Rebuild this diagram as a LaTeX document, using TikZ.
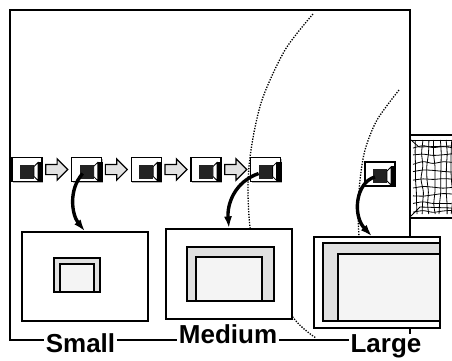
\documentclass[tikz,border=0pt]{standalone}
\usepackage{fontspec}
\setmainfont{Liberation Sans}
\usetikzlibrary{arrows.meta,positioning,shapes.arrows,shadows}
\definecolor{camdark}{HTML}{222222}
\definecolor{panelgray}{HTML}{E0E0E0}
\definecolor{panellight}{HTML}{F4F4F4}
\definecolor{flowgray}{HTML}{E2E2E2}

\tikzset{
    camera/.pic={
        \fill[camdark] (-7,-5) rectangle (7,9);
        \draw[fill=white, line width=0.8pt] (7,-3) -- (11,-7) -- (11,11) -- (7,7) -- cycle;
        \fill[black] (11,-8) rectangle (16,12);
    }
}

\begin{document}
\begin{tikzpicture}[
    x=1pt, y=-1pt,
    line width=1.2pt,
    cambox/.style={rectangle, draw, fill=white, minimum width=30pt, minimum height=24pt, inner sep=0pt,
        drop shadow={shadow xshift=1pt, shadow yshift=-1pt, fill=gray, opacity=0.6}},
    flow/.style={single arrow, draw, fill=flowgray, minimum height=22pt, text width=0pt,
        text height=4.5pt, text depth=4.5pt, single arrow head extend=5.5pt, inner sep=0pt},
    view/.style={rectangle, draw, fill=white, line width=1.2pt, inner sep=0pt, minimum width=126pt},
    inset/.style={draw, line width=1.2pt},
    zoomarc/.style={dash pattern=on 1.3pt off 1.4pt, line width=1.3pt},
    swing/.style={line width=3.4pt, -{Latex[length=12pt,width=8pt]}},
    size/.style={fill=white, inner xsep=2pt, inner ysep=0pt, anchor=base,
        font=\fontsize{26}{28}\selectfont\bfseries},
    mesh/.style={line width=0.8pt}
]
\useasboundingbox (0,0) rectangle (452,360);

% outer frame
\draw (10,10) rectangle (410,340);

% texture patch on the right
\begin{scope}
    \pgfmathsetseed{11}
    \clip (410,135) rectangle (452,218);
    \fill[white] (410,135) rectangle (452,218);
    \foreach \gx in {416,422,...,452}
        \draw[mesh] plot[smooth] coordinates {({\gx+1.4*rand},140) ({\gx+1.4*rand},153) ({\gx+1.4*rand},166) ({\gx+1.4*rand},179) ({\gx+1.4*rand},192) ({\gx+1.4*rand},204) ({\gx+1.4*rand},214)};
    \foreach \gy in {147,155,...,211}
        \draw[mesh] plot[smooth] coordinates {(413,{\gy+1.4*rand}) (423,{\gy+1.4*rand}) (433,{\gy+1.4*rand}) (443,{\gy+1.4*rand}) (453,{\gy+1.4*rand})};
    \draw[mesh] (410,140) -- (452,140);
    \draw[mesh] (411,140) -- (419,147) -- (452,146);
    \draw[mesh] (411,216) -- (420,207) -- (452,208);
\end{scope}
\draw (455,135) -- (410,135) -- (410,218) -- (455,218);

% camera track
\node[cambox] (cam1) at (27,169.5) {};
\node[flow, right=2.5pt of cam1] (a1) {};
\node[cambox, right=2.5pt of a1] (cam2) {};
\node[flow, right=2.5pt of cam2] (a2) {};
\node[cambox, right=2.5pt of a2] (cam3) {};
\node[flow, right=2.5pt of cam3] (a3) {};
\node[cambox, right=2.5pt of a3] (cam4) {};
\node[flow, right=2.5pt of cam4] (a4) {};
\node[cambox, right=2.5pt of a4] (cam5) {};
\node[cambox] (cam6) at (380,174) {};
\foreach \c in {cam1,cam2,cam3,cam4,cam5,cam6}
    \pic at (\c) {camera};

% field of view arcs
\draw[zoomarc] plot[smooth] coordinates {(313,14) (285,50) (262,100) (251,150) (248,195) (255,250) (292,316) (316,338)};
\draw[zoomarc] plot[smooth] coordinates {(399,90) (377,120) (365,150) (360,180) (358,210) (359,237)};

% views
\node[view, minimum height=89pt] (small) at (85,276.5) {};
\draw[inset, fill=panelgray] (54,258) rectangle (100,292);
\draw[inset, fill=panellight] (60,264) rectangle (94,292);

\node[view, minimum height=90pt] (medium) at (229,274) {};
\draw[inset, fill=panelgray] (187,247) rectangle (274,301);
\draw[inset, fill=panellight] (196,257) rectangle (262,301);

\node[view, minimum height=91pt] (large) at (377,282.5) {};
\draw[inset, fill=panelgray] (323,243) rectangle (440,321);
\draw[inset, fill=panellight] (338,254) rectangle (440,321);

% camera to view
\draw[swing] ([xshift=-4pt,yshift=-4pt]cam2.center) .. controls (68,190) and (72,215) .. (small.north);
\draw[swing] ([xshift=-7pt,yshift=-4pt]cam5.center) .. controls (234,182) and (227,205) .. (medium.north);
\draw[swing] ([xshift=-5pt,yshift=-3pt]cam6.center) .. controls (356,182) and (352,215) .. ([xshift=-5pt]large.north);

% size labels
\node[size] (lsmall) at (80.5,352) {Small};
\node[size] (lmedium) at (228,343) {Medium};
\node[size] (llarge) at (386,352) {Large};
\end{tikzpicture}
\end{document}
